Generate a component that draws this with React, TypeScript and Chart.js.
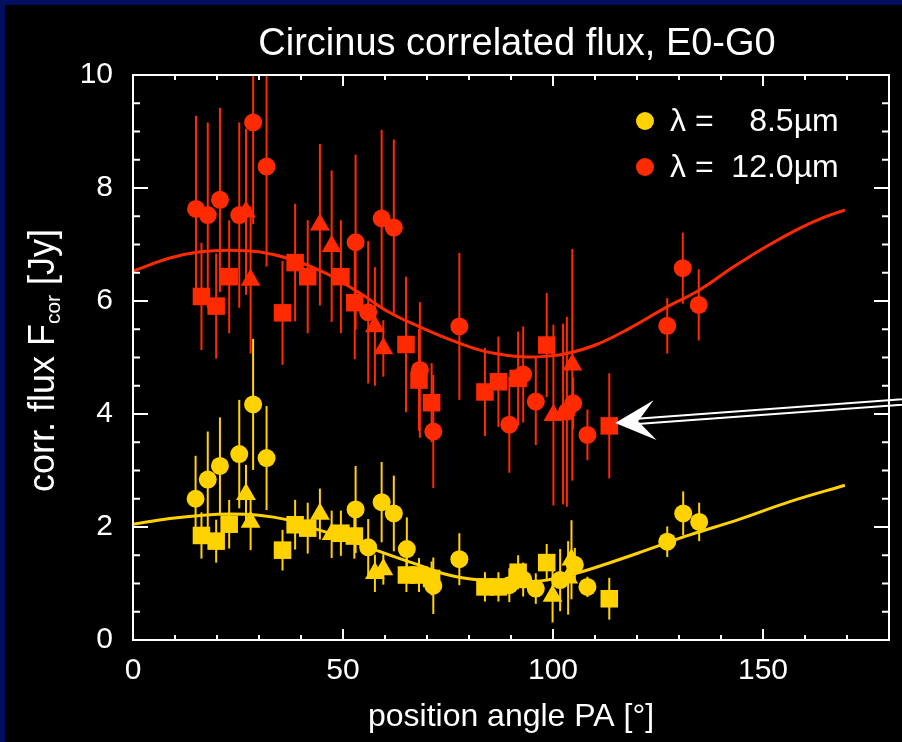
import React, { useEffect, useRef } from "react";
import { Chart, registerables } from "chart.js";
Chart.register(...registerables);

const FONT = "'Liberation Sans', Arial, Helvetica, sans-serif";
const RED = "#ff2a00";
const YELLOW = "#ffd200";
const NAVY = "#030f5e";

const TITLE = "Circinus correlated flux, E0-G0";
const X_TITLE = "position angle PA [°]";
const Y_TITLE_MAIN = "corr. flux F";
const Y_TITLE_SUB = "cor";
const Y_TITLE_END = " [Jy]";
const LEGEND_LABELS = ["λ =    8.5µm", "λ =  12.0µm"];
const X_TICKS = [0, 50, 100, 150];
const Y_TICKS = [0, 2, 4, 6, 8, 10];

// 8.5 µm — circles
const pa85c = [14.9, 17.8, 20.7, 25.3, 28.6, 31.8, 53.0, 56.0, 59.2, 62.1, 65.2, 71.5, 77.7, 89.6, 92.9, 95.9, 101.7, 105.2, 108.2, 127.2, 131.0, 134.8];
const f85c = [2.50, 2.84, 3.08, 3.29, 4.17, 3.22, 2.31, 1.64, 2.44, 2.24, 1.61, 0.96, 1.43, 0.97, 1.07, 0.91, 1.06, 1.33, 0.94, 1.74, 2.24, 2.09];
const e85c = [0.76, 0.85, 0.86, 0.96, 1.16, 0.92, 0.77, 0.5, 0.71, 0.67, 0.56, 0.5, 0.46, 0.3, 0.3, 0.27, 0.55, 0.3, 0.18, 0.27, 0.39, 0.34];
// 8.5 µm — squares
const pa85s = [16.3, 19.8, 22.9, 35.6, 38.6, 41.6, 49.5, 52.7, 65.1, 68.1, 71.1, 83.8, 87.0, 91.7, 98.5, 113.4];
const f85s = [1.85, 1.75, 2.05, 1.59, 2.04, 1.98, 1.89, 1.84, 1.15, 1.15, 1.09, 0.94, 0.94, 1.20, 1.37, 0.73];
const e85s = [0.41, 0.38, 0.43, 0.36, 0.44, 0.45, 0.40, 0.40, 0.30, 0.30, 0.30, 0.26, 0.26, 0.30, 0.33, 0.37];
// 8.5 µm — triangles
const pa85t = [26.9, 28.0, 44.5, 47.3, 57.6, 59.6, 99.9, 103.6, 104.4];
const f85t = [2.58, 2.09, 2.23, 1.87, 1.18, 1.25, 0.78, 1.10, 1.42];
const e85t = [0.52, 0.50, 0.45, 0.42, 0.33, 0.27, 0.47, 0.65, 0.70];

// 12.0 µm — circles
const pa12c = [15.0, 17.8, 20.7, 25.3, 28.6, 31.8, 53.0, 56.0, 59.2, 62.1, 68.3, 71.5, 77.7, 89.6, 92.9, 95.9, 103.3, 104.8, 108.2, 127.2, 130.9, 134.7];
const f12c = [7.63, 7.52, 7.79, 7.52, 9.16, 8.38, 7.04, 5.80, 7.46, 7.30, 4.78, 3.69, 5.55, 3.81, 4.70, 4.22, 4.04, 4.19, 3.63, 5.56, 6.58, 5.93];
const e12c = [1.65, 1.64, 1.63, 1.64, 1.80, 1.77, 1.55, 1.26, 1.57, 1.56, 1.20, 1.00, 1.30, 0.85, 0.85, 0.77, 1.68, 0.46, 0.45, 0.49, 0.63, 0.63];
// 12.0 µm — squares
const pa12s = [16.3, 19.8, 22.9, 35.6, 38.6, 41.6, 49.5, 52.8, 65.0, 68.1, 71.1, 83.8, 87.0, 91.7, 98.5, 113.4];
const f12s = [6.08, 5.91, 6.43, 5.79, 6.68, 6.43, 6.43, 5.97, 5.23, 4.60, 4.20, 4.39, 4.57, 4.63, 5.22, 3.79];
const e12s = [0.95, 0.93, 1.00, 0.92, 1.04, 1.00, 1.00, 1.00, 1.20, 0.90, 0.70, 0.78, 0.80, 0.83, 0.92, 0.93];
// 12.0 µm — triangles
const pa12t = [26.9, 28.0, 44.5, 47.3, 57.6, 59.6, 100.1, 102.4, 104.6];
const f12t = [7.58, 6.37, 7.35, 6.97, 5.55, 5.16, 3.98, 4.00, 4.87];
const e12t = [1.47, 1.30, 1.43, 1.34, 1.05, 0.50, 1.60, 1.60, 2.05];

// model fit curves
const fit85PA = [0, 8.8, 16.7, 23, 30, 36.6, 42.9, 49.3, 56.4, 62, 66.7, 74.7, 82.6, 90.5, 98.5, 106.4, 114.4, 120.7, 127.1, 132.6, 144.5, 156.4, 169.5];
const fit85Flux = [2.05, 2.15, 2.21, 2.23, 2.21, 2.13, 1.98, 1.83, 1.63, 1.48, 1.36, 1.16, 1.06, 1.03, 1.06, 1.20, 1.39, 1.55, 1.72, 1.86, 2.14, 2.45, 2.74];
const fit12PA = [0, 8.8, 16, 23, 30, 38, 46, 54, 61, 68, 75, 82.6, 88, 93.7, 98, 103.3, 110.4, 118.3, 126.5, 135, 142.9, 150.9, 158.8, 164.5, 169.5];
const fit12Flux = [6.53, 6.76, 6.87, 6.90, 6.87, 6.73, 6.49, 6.14, 5.80, 5.55, 5.33, 5.13, 5.05, 5.01, 5.02, 5.07, 5.23, 5.52, 5.87, 6.20, 6.60, 6.97, 7.29, 7.48, 7.61];

// arrow annotation target (points at the 113° square)
const ARROW_PA = 114.8;
const ARROW_FLUX = 3.84;

const pts = (xs: number[], ys: number[]) => xs.map((x, i) => ({ x, y: ys[i] }));

function markerDs(xs: number[], ys: number[], errs: number[], color: string, style: string, radius: number) {
  return {
    type: "scatter",
    data: pts(xs, ys),
    errors: errs,
    backgroundColor: color,
    borderColor: color,
    borderWidth: 0,
    pointStyle: style,
    pointRadius: radius,
    pointHoverRadius: radius,
    showLine: false,
    order: 2,
  };
}

function fitDs(xs: number[], ys: number[], color: string) {
  return {
    type: "line",
    data: pts(xs, ys),
    borderColor: color,
    borderWidth: 3,
    pointRadius: 0,
    fill: false,
    tension: 0.4,
    order: 1,
  };
}

export default function App() {
  const ref = useRef<HTMLCanvasElement>(null);
  useEffect(() => {
    document.body.style.margin = "0";
    document.body.style.background = NAVY;

    const background = {
      id: "bg",
      beforeDraw(chart: any) {
        const ctx = chart.ctx;
        ctx.save();
        ctx.fillStyle = NAVY;
        ctx.fillRect(0, 0, chart.width, chart.height);
        ctx.fillStyle = "#000000";
        ctx.fillRect(5, 5, chart.width - 5, chart.height - 5);
        ctx.restore();
      },
    };

    const errorBars = {
      id: "errorBars",
      beforeDatasetsDraw(chart: any) {
        const ctx = chart.ctx;
        const xs = chart.scales.x, ys = chart.scales.y;
        const a = chart.chartArea;
        ctx.save();
        ctx.beginPath();
        ctx.rect(a.left, a.top, a.right - a.left, a.bottom - a.top);
        ctx.clip();
        chart.data.datasets.forEach((ds: any) => {
          if (!ds.errors) return;
          ctx.strokeStyle = ds.borderColor;
          ctx.lineWidth = 2;
          ds.data.forEach((p: any, i: number) => {
            const px = xs.getPixelForValue(p.x);
            ctx.beginPath();
            ctx.moveTo(px, ys.getPixelForValue(p.y - ds.errors[i]));
            ctx.lineTo(px, ys.getPixelForValue(p.y + ds.errors[i]));
            ctx.stroke();
          });
        });
        ctx.restore();
      },
    };

    const frame = {
      id: "frame",
      afterDraw(chart: any) {
        const ctx = chart.ctx;
        const xs = chart.scales.x, ys = chart.scales.y;
        const a = chart.chartArea;
        ctx.save();
        ctx.strokeStyle = "#ffffff";
        ctx.lineWidth = 2;
        ctx.strokeRect(a.left, a.top, a.right - a.left, a.bottom - a.top);
        ctx.beginPath();
        for (let v = 0; v <= 180; v += 10) {
          const px = xs.getPixelForValue(v);
          const len = v % 50 === 0 ? 11 : 5;
          ctx.moveTo(px, a.bottom); ctx.lineTo(px, a.bottom - len);
          ctx.moveTo(px, a.top); ctx.lineTo(px, a.top + len);
        }
        for (let v = 0; v <= 10; v += 0.5) {
          const py = ys.getPixelForValue(v);
          const len = v % 2 === 0 ? 15 : 7;
          ctx.moveTo(a.left, py); ctx.lineTo(a.left + len, py);
          ctx.moveTo(a.right, py); ctx.lineTo(a.right - len, py);
        }
        ctx.stroke();

        // title
        ctx.fillStyle = "#ffffff";
        ctx.textAlign = "center";
        ctx.textBaseline = "alphabetic";
        ctx.font = `38px ${FONT}`;
        ctx.fillText(TITLE, (a.left + a.right) / 2 + 6, 55);
        // x title
        ctx.font = `32px ${FONT}`;
        ctx.fillText(X_TITLE, (a.left + a.right) / 2, 726);
        // y title with subscript
        ctx.save();
        ctx.translate(54, (a.top + a.bottom) / 2 + 3);
        ctx.rotate(-Math.PI / 2);
        ctx.textAlign = "left";
        ctx.font = `36px ${FONT}`;
        const w1 = ctx.measureText(Y_TITLE_MAIN).width;
        const w3 = ctx.measureText(Y_TITLE_END).width;
        ctx.font = `21px ${FONT}`;
        const w2 = ctx.measureText(Y_TITLE_SUB).width;
        let sx = -(w1 + w2 + w3) / 2;
        ctx.font = `36px ${FONT}`;
        ctx.fillText(Y_TITLE_MAIN, sx, 0);
        sx += w1;
        ctx.font = `21px ${FONT}`;
        ctx.fillText(Y_TITLE_SUB, sx, 6);
        sx += w2;
        ctx.font = `36px ${FONT}`;
        ctx.fillText(Y_TITLE_END, sx, 0);
        ctx.restore();

        // legend
        const legendColors = [YELLOW, RED];
        LEGEND_LABELS.forEach((lab, i) => {
          const cy = 121 + i * 46;
          ctx.fillStyle = legendColors[i];
          ctx.beginPath();
          ctx.arc(645, cy, 9, 0, Math.PI * 2);
          ctx.fill();
          ctx.fillStyle = "#ffffff";
          ctx.textAlign = "left";
          ctx.textBaseline = "middle";
          ctx.font = `32px ${FONT}`;
          ctx.fillText(lab, 670, cy + 1);
        });

        // arrow
        const tx = xs.getPixelForValue(ARROW_PA);
        const ty = ys.getPixelForValue(ARROW_FLUX);
        ctx.translate(tx, ty);
        ctx.rotate(Math.atan2(-18.5, 252));
        ctx.fillStyle = "#ffffff";
        ctx.beginPath();
        ctx.moveTo(0, 0);
        ctx.lineTo(40, -20);
        ctx.lineTo(23, 0);
        ctx.lineTo(40, 20);
        ctx.closePath();
        ctx.fill();
        ctx.strokeStyle = "#ffffff";
        ctx.lineWidth = 2;
        ctx.beginPath();
        ctx.moveTo(22, -2.7); ctx.lineTo(400, -2.7);
        ctx.moveTo(22, 2.7); ctx.lineTo(400, 2.7);
        ctx.stroke();
        ctx.restore();
      },
    };

    const chart = new Chart(ref.current as HTMLCanvasElement, {
      type: "scatter",
      data: {
        datasets: [
          fitDs(fit85PA, fit85Flux, YELLOW),
          fitDs(fit12PA, fit12Flux, RED),
          markerDs(pa85c, f85c, e85c, YELLOW, "circle", 9),
          markerDs(pa85s, f85s, e85s, YELLOW, "rect", 12.4),
          markerDs(pa85t, f85t, e85t, YELLOW, "triangle", 11.5),
          markerDs(pa12c, f12c, e12c, RED, "circle", 9),
          markerDs(pa12s, f12s, e12s, RED, "rect", 12.4),
          markerDs(pa12t, f12t, e12t, RED, "triangle", 11.5),
        ] as any,
      },
      options: {
        responsive: false,
        animation: false,
        events: [],
        layout: { padding: { left: 0, top: 75, right: 13, bottom: 0 } },
        plugins: { legend: { display: false }, tooltip: { enabled: false }, title: { display: false } },
        scales: {
          x: {
            type: "linear",
            position: "bottom",
            min: 0,
            max: 180,
            grid: { display: false },
            border: { display: false },
            ticks: { color: "#ffffff", font: { size: 30, family: FONT }, padding: 5, maxRotation: 0 },
            afterBuildTicks: (s: any) => { s.ticks = X_TICKS.map((v) => ({ value: v })); },
            afterFit: (s: any) => { s.height = 102; },
          },
          y: {
            type: "linear",
            min: 0,
            max: 10,
            grid: { display: false },
            border: { display: false },
            ticks: { color: "#ffffff", font: { size: 30, family: FONT }, padding: 12 },
            afterBuildTicks: (s: any) => { s.ticks = Y_TICKS.map((v) => ({ value: v })); },
            afterFit: (s: any) => { s.width = 133; },
          },
        },
      } as any,
      plugins: [background, errorBars, frame],
    });
    return () => chart.destroy();
  }, []);
  return <canvas ref={ref} width={902} height={742} style={{ display: "block" }} />;
}
